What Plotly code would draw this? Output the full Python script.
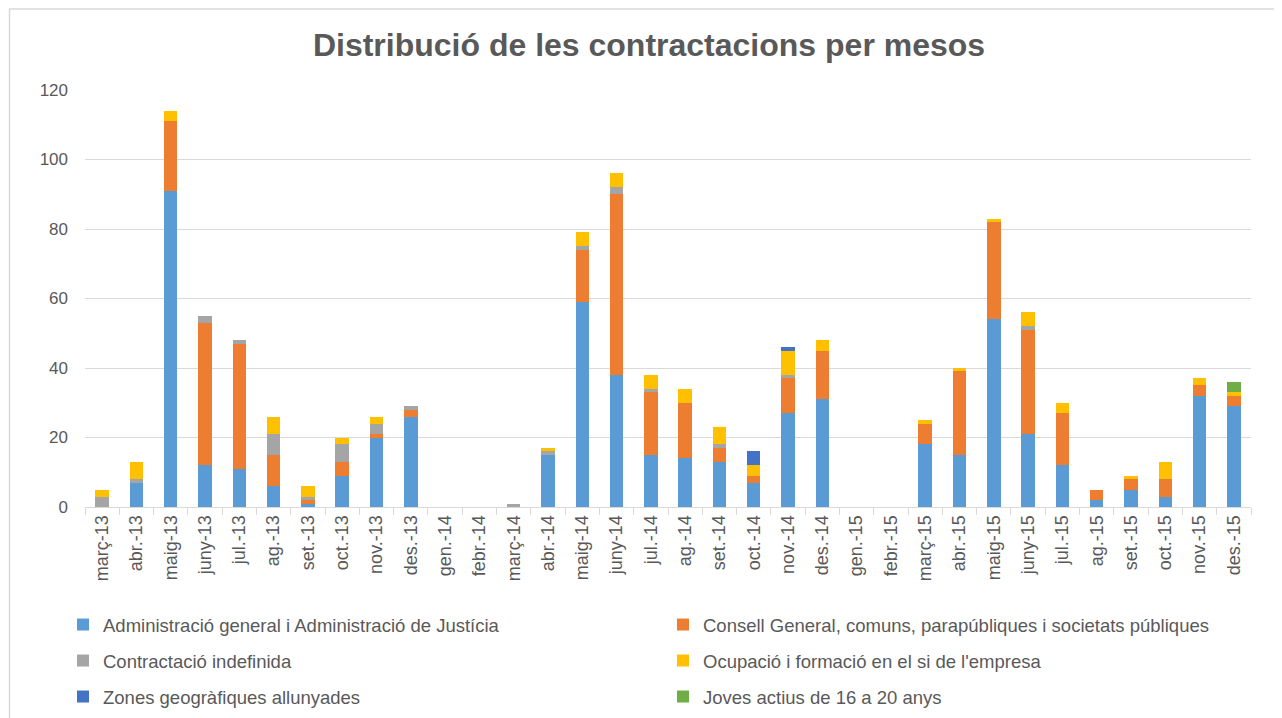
import plotly.graph_objects as go

categories = ["març-13", "abr.-13", "maig-13", "juny-13", "jul.-13", "ag.-13", "set.-13", "oct.-13",
              "nov.-13", "des.-13", "gen.-14", "febr.-14", "març-14", "abr.-14", "maig-14", "juny-14",
              "jul.-14", "ag.-14", "set.-14", "oct.-14", "nov.-14", "des.-14", "gen.-15", "febr.-15",
              "març-15", "abr.-15", "maig-15", "juny-15", "jul.-15", "ag.-15", "set.-15", "oct.-15",
              "nov.-15", "des.-15"]

administracio = [0, 7, 91, 12, 11, 6, 1, 9, 20, 26, 0, 0, 0, 15, 59, 38, 15, 14, 13, 7, 27, 31,
                 0, 0, 18, 15, 54, 21, 12, 2, 5, 3, 32, 29]
consell = [0, 0, 20, 41, 36, 9, 1, 4, 1, 2, 0, 0, 0, 0, 15, 52, 18, 16, 4, 2, 10, 14,
           0, 0, 6, 24, 28, 30, 15, 3, 3, 5, 3, 3]
indefinida = [3, 1, 0, 2, 1, 6, 1, 5, 3, 1, 0, 0, 1, 1, 1, 2, 1, 0, 1, 0, 1, 0,
              0, 0, 0, 0, 0, 1, 0, 0, 0, 0, 0, 0]
ocupacio = [2, 5, 3, 0, 0, 5, 3, 2, 2, 0, 0, 0, 0, 1, 4, 4, 4, 4, 5, 3, 7, 3,
            0, 0, 1, 1, 1, 4, 3, 0, 1, 5, 2, 1]
zones = [0, 0, 0, 0, 0, 0, 0, 0, 0, 0, 0, 0, 0, 0, 0, 0, 0, 0, 0, 4, 1, 0,
         0, 0, 0, 0, 0, 0, 0, 0, 0, 0, 0, 0]
joves = [0, 0, 0, 0, 0, 0, 0, 0, 0, 0, 0, 0, 0, 0, 0, 0, 0, 0, 0, 0, 0, 0,
         0, 0, 0, 0, 0, 0, 0, 0, 0, 0, 0, 3]

series_names = ["Administració general i Administració de Justícia",
                "Consell General, comuns, parapúbliques i societats públiques",
                "Contractació indefinida",
                "Ocupació i formació en el si de l'empresa",
                "Zones geogràfiques allunyades",
                "Joves actius de 16 a 20 anys"]
series_values = [administracio, consell, indefinida, ocupacio, zones, joves]
colors = ["#5B9BD5", "#ED7D31", "#A5A5A5", "#FFC000", "#4472C4", "#70AD47"]

W, H = 1282, 718
OFF = 8  # page body margin offset
FONT = "Liberation Sans, Arial, sans-serif"
GRAY = "#595959"

fig = go.Figure()
legend_ids = ["legend", "legend2", "legend3", "legend4", "legend5", "legend6"]
for name, vals, col, lg in zip(series_names, series_values, colors, legend_ids):
    fig.add_trace(go.Bar(x=categories, y=vals, name=name, marker_color=col,
                         marker_line_width=0, legend=lg))

col_x = [(63 - OFF) / W, (663 - OFF) / W]
row_y = [1 - (625 - OFF) / H, 1 - (661 - OFF) / H, 1 - (697 - OFF) / H]
legend_layout = {}
for i, lg in enumerate(legend_ids):
    legend_layout[lg] = dict(
        xref="container", yref="container",
        x=col_x[i % 2], y=row_y[i // 2], xanchor="left", yanchor="middle",
        orientation="h", bgcolor="rgba(0,0,0,0)",
        font=dict(family=FONT, size=18.5, color=GRAY),
        itemclick=False, itemdoubleclick=False,
    )

fig.update_layout(
    width=W, height=H,
    barmode="stack", bargap=0.606,
    paper_bgcolor="white", plot_bgcolor="white",
    margin=dict(l=85 - OFF, r=39, t=90 - OFF, b=219, autoexpand=False),
    title=dict(text="<b>Distribució de les contractacions per mesos</b>",
               x=0.5, xref="container", xanchor="center",
               y=1 - (45 - OFF) / H, yref="container", yanchor="middle",
               font=dict(family=FONT, size=32, color=GRAY)),
    font=dict(family=FONT, color=GRAY),
    xaxis=dict(type="category", tickangle=-90, showline=True, linecolor="#D9D9D9", linewidth=1,
               ticks="outside", tickson="boundaries", ticklen=7, tickcolor="#D9D9D9",
               tickfont=dict(family=FONT, size=18, color=GRAY), showgrid=False),
    yaxis=dict(range=[0, 120], dtick=20, showgrid=True, gridcolor="#D9D9D9", gridwidth=1,
               zeroline=False, showline=False, ticks="", ticklabelstandoff=16,
               tickfont=dict(family=FONT, size=17, color=GRAY)),
    showlegend=True,
    shapes=[dict(type="rect", xref="paper", yref="paper",
                 x0=(9.5 - 85) / 1166, x1=(1295 - 85) / 1166,
                 y0=(507 - 730) / 417, y1=(507 - 9) / 417,
                 line=dict(color="#D9D9D9", width=1.5), fillcolor="rgba(0,0,0,0)", layer="below")],
    **legend_layout,
)

fig.write_html("out.html")
